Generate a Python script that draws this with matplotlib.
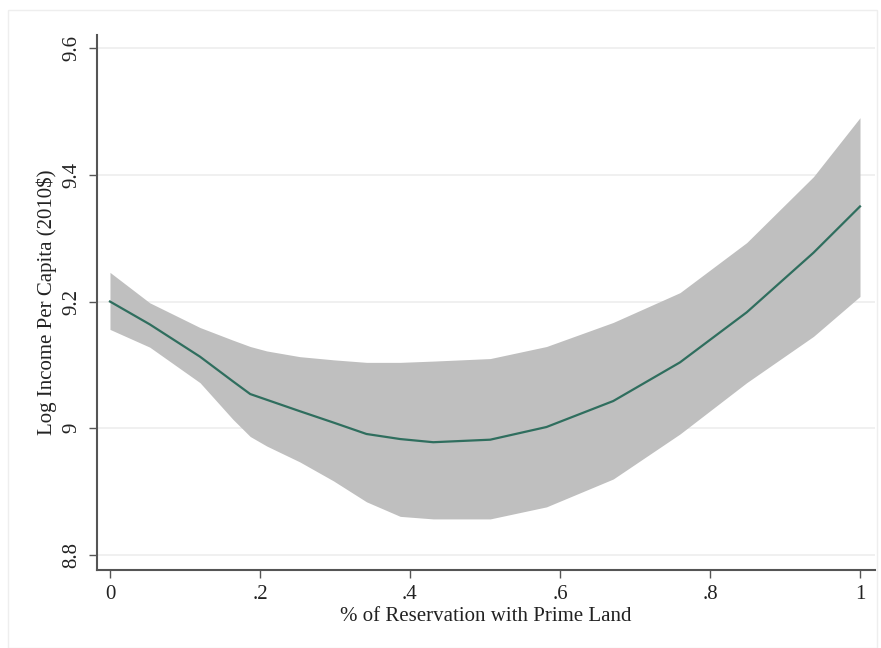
import matplotlib
matplotlib.use("Agg")
import matplotlib.pyplot as plt
from matplotlib.patches import Rectangle

# Data
x_vals = [0.0, 0.053, 0.12, 0.164, 0.187, 0.209, 0.253, 0.298, 0.342, 0.387,
          0.431, 0.507, 0.582, 0.671, 0.76, 0.849, 0.938, 1.0]
fit = [9.200, 9.164, 9.113, 9.074, 9.054, 9.045, 9.027, 9.009, 8.991, 8.983,
       8.978, 8.982, 9.002, 9.043, 9.104, 9.183, 9.277, 9.350]
upper = [9.246, 9.198, 9.159, 9.139, 9.129, 9.122, 9.113, 9.108, 9.104, 9.104,
         9.106, 9.110, 9.129, 9.167, 9.214, 9.293, 9.397, 9.490]
lower = [9.156, 9.128, 9.072, 9.014, 8.987, 8.972, 8.947, 8.917, 8.884, 8.861,
         8.857, 8.857, 8.876, 8.920, 8.991, 9.072, 9.145, 9.208]

xticks = [0, 0.2, 0.4, 0.6, 0.8, 1.0]
xticklabels = ["0", ".2", ".4", ".6", ".8", "1"]
yticks = [8.8, 9.0, 9.2, 9.4, 9.6]
yticklabels = ["8.8", "9", "9.2", "9.4", "9.6"]

plt.rcParams['font.family'] = ['Liberation Serif', 'DejaVu Serif']

fig = plt.figure(figsize=(8.81, 6.48), dpi=100)
fig.patch.set_facecolor('white')
# faint outer frame
fig.patches.append(Rectangle((8/881, 0.0), 869/881, 1 - 10/648, transform=fig.transFigure,
                             fill=False, edgecolor='#eeeeee', linewidth=1.0))

ax = fig.add_axes([97/881, 1 - 570/648, (875 - 97)/881, (570 - 35)/648])
ax.set_facecolor('white')

ax.fill_between(x_vals, lower, upper, color='#bfbfbf', linewidth=0, zorder=2)
ax.plot(x_vals, fit, color='#2f6e5e', linewidth=1.6, zorder=3)

ax.set_xlim(-0.0173, 1.02)
ax.set_ylim(8.7764, 9.6205)

ax.set_yticks(yticks)
ax.set_yticklabels(yticklabels, rotation=90, va='center')
ax.set_xticks(xticks)
ax.set_xticklabels(xticklabels)

ax.grid(axis='y', color='#eeeeee', linewidth=1.2, zorder=0)
ax.set_axisbelow(True)

for s in ['top', 'right']:
    ax.spines[s].set_visible(False)
for s in ['left', 'bottom']:
    ax.spines[s].set_color('#555555')
    ax.spines[s].set_linewidth(1.5)

ax.tick_params(axis='both', direction='out', length=6, width=1.0, color='#555555',
               labelsize=15, labelcolor='#222222', pad=5)

ax.set_xlabel("% of Reservation with Prime Land", fontsize=15, color='#222222', labelpad=2)
ax.set_ylabel("Log Income Per Capita (2010\\$)", fontsize=15, color='#222222', labelpad=4)

fig.savefig("out.png", dpi=100)
